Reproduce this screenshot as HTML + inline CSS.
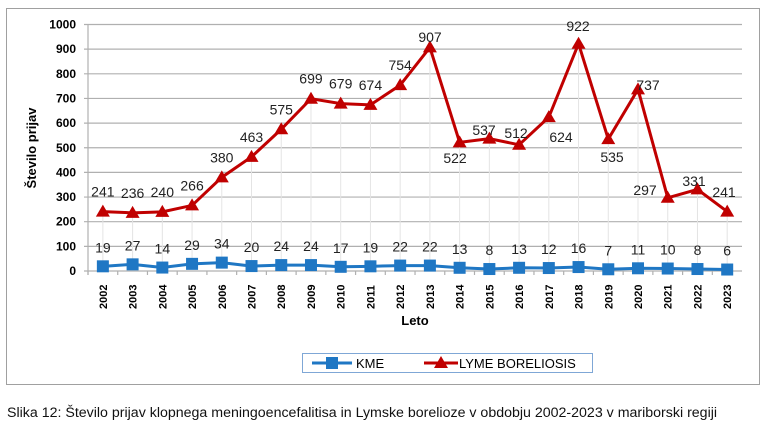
<!DOCTYPE html>
<html><head><meta charset="utf-8"><style>
body{margin:0;background:#fff;width:768px;height:430px;overflow:hidden;font-family:"Liberation Sans",sans-serif}
</style></head><body>
<svg width="768" height="430" xmlns="http://www.w3.org/2000/svg" font-family="Liberation Sans, sans-serif">
<rect x="6.5" y="8.5" width="753" height="376" fill="#fff" stroke="#a0a0a0"/>
<g id="grid" stroke="#b0b0b0" stroke-width="1.2"></g>
<g id="ylab" font-size="12" font-weight="bold" text-anchor="end" fill="#000"></g>
<g id="xlab" font-size="11" font-weight="bold" fill="#000"></g>
<g id="series"></g>
<text x="36" y="148" font-size="13" font-weight="bold" transform="rotate(-90 36 148)" text-anchor="middle">Število prijav</text>
<text x="415" y="325" font-size="13" font-weight="bold" text-anchor="middle">Leto</text>
<rect x="302.5" y="353.5" width="290" height="19" fill="#fff" stroke="#7fa7d6"/>
<line x1="312" y1="363" x2="352" y2="363" stroke="#1f77c4" stroke-width="3"/>
<rect x="326" y="357" width="12" height="12" fill="#1f77c4"/>
<text x="356" y="368" font-size="13">KME</text>
<line x1="424" y1="363" x2="458" y2="363" stroke="#c00000" stroke-width="3"/>
<polygon points="441,356 448,368 434,368" fill="#c00000"/>
<text x="459" y="368" font-size="13">LYME BORELIOSIS</text>
<text x="7" y="417" font-size="14.2" fill="#111">Slika 12: Število prijav klopnega meningoencefalitisa in Lymske borelioze v obdobju 2002-2023 v mariborski regiji</text>
</svg>
<script>
const ns="http://www.w3.org/2000/svg";
const lyme=[241,236,240,266,380,463,575,699,679,674,754,907,522,537,512,624,922,535,737,297,331,241];
const kme=[19,27,14,29,34,20,24,24,17,19,22,22,13,8,13,12,16,7,11,10,8,6];
const X=i=>88+29.73*(i+0.5), Y=v=>271-v*0.2465;
function el(p,t,a,txt){const e=document.createElementNS(ns,t);for(const k in a)e.setAttribute(k,a[k]);if(txt!==undefined)e.textContent=txt;document.getElementById(p)?document.getElementById(p).appendChild(e):p.appendChild(e);return e;}
for(let v=0;v<=1000;v+=100){el("grid","line",{x1:84,x2:742,y1:Y(v),y2:Y(v)});el("ylab","text",{x:76,y:Y(v)+4},v);}
el("grid","line",{x1:88,x2:88,y1:Y(1000),y2:275});
for(let i=0;i<22;i++){el("grid","line",{x1:X(i)-14.86,x2:X(i)-14.86,y1:271,y2:275});
 const x=X(i)+4,y=309;el("xlab","text",{x:x,y:y,transform:`rotate(-90 ${x} ${y})`},2002+i);
 el("grid","line",{x1:X(i),x2:X(i),y1:Y(lyme[i]),y2:Y(kme[i]),stroke:"#e4e4e4","stroke-width":1});}
const s=document.getElementById("series");
el(s,"polyline",{points:kme.map((v,i)=>X(i)+","+Y(v)).join(" "),fill:"none",stroke:"#1f77c4","stroke-width":3});
el(s,"polyline",{points:lyme.map((v,i)=>X(i)+","+Y(v)).join(" "),fill:"none",stroke:"#c00000","stroke-width":3});
kme.forEach((v,i)=>{el(s,"rect",{x:X(i)-6,y:Y(v)-6,width:12,height:12,fill:"#1f77c4"});
 el(s,"text",{x:X(i),y:Y(v)-14,"font-size":14,"text-anchor":"middle",fill:"#222"},v);});
const ov={11:[430,42],12:[455,163],13:[484,135],14:[516,138],15:[561,142],16:[578,31],17:[612,162],18:[648,90],19:[645,195],20:[694,186],21:[724,197]};
lyme.forEach((v,i)=>{const x=X(i),y=Y(v);el(s,"polygon",{points:`${x},${y-7} ${x+7},${y+5} ${x-7},${y+5}`,fill:"#c00000"});
 const p=ov[i]||[x,y-15];
 el(s,"text",{x:p[0],y:p[1],"font-size":14,"text-anchor":"middle",fill:"#222"},v);});
</script>
</body></html>
